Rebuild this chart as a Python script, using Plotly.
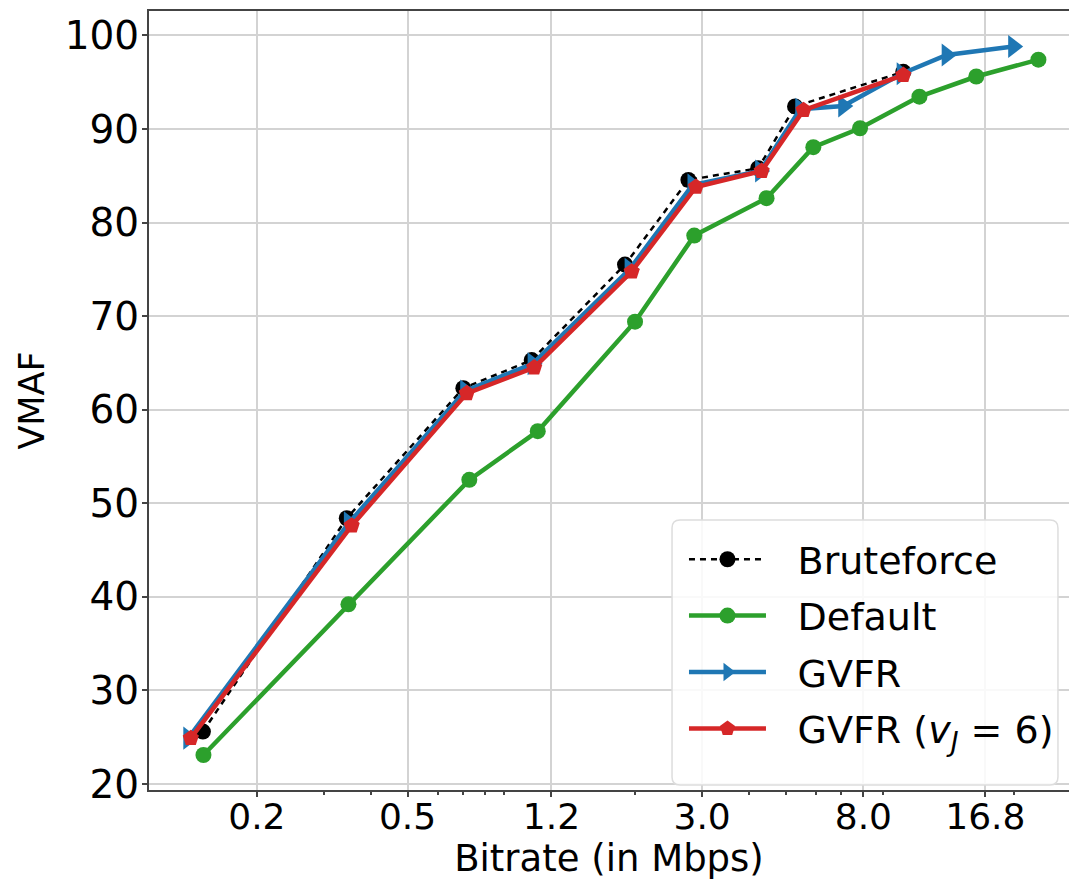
import plotly.graph_objects as go

# ---- data ----
bruteforce_x = [0.144, 0.3455, 0.702, 1.064, 1.877, 2.76, 4.22, 5.28, 10.2]
bruteforce_y = [25.6, 48.4, 62.3, 65.3, 75.5, 84.55, 85.8, 92.4, 96.1]

default_x = [0.1445, 0.349, 0.728, 1.104, 1.995, 2.86, 4.44, 5.9, 7.84, 11.25, 15.9, 23.2]
default_y = [23.1, 39.2, 52.5, 57.7, 69.4, 78.6, 82.6, 88.05, 90.07, 93.45, 95.6, 97.4]

gvfr_x = [0.1318, 0.35, 0.71, 1.07, 1.93, 2.83, 4.27, 5.45, 7.08, 10.1, 13.28, 19.9]
gvfr_y = [24.9, 47.9, 62.0, 64.9, 75.0, 84.0, 85.5, 92.1, 92.45, 95.9, 97.9, 98.8]

gvfr6_x = [0.1338, 0.356, 0.717, 1.08, 1.955, 2.89, 4.31, 5.56, 10.2]
gvfr6_y = [24.9, 47.6, 61.75, 64.5, 74.75, 83.8, 85.5, 92.0, 95.75]

x_tick_vals = [0.2, 0.5, 1.2, 3.0, 8.0, 16.8]
x_tick_text = ["0.2", "0.5", "1.2", "3.0", "8.0", "16.8"]
x_minor_vals = [0.3, 0.4, 0.6, 0.7, 0.8, 0.9, 2, 4, 5, 6, 7, 9, 20]
y_tick_vals = [20, 30, 40, 50, 60, 70, 80, 90, 100]

FONT = "DejaVu Sans"
GREEN = "#2ca02c"
BLUE = "#1f77b4"
RED = "#d62728"
PAD = "\u2002\u2009"  # gap between legend symbol and label

fig = go.Figure()

fig.add_trace(go.Scatter(
    x=bruteforce_x, y=bruteforce_y, mode="lines+markers", name=PAD + "Bruteforce",
    line=dict(color="black", width=2.5, dash="6px,5px"),
    marker=dict(symbol="circle", size=16, color="black"),
    legendgroup="a",
))
fig.add_trace(go.Scatter(
    x=default_x, y=default_y, mode="lines+markers", name=PAD + "Default",
    line=dict(color=GREEN, width=4.5),
    marker=dict(symbol="circle", size=16, color=GREEN),
    legendgroup="b",
))
fig.add_trace(go.Scatter(
    x=gvfr_x, y=gvfr_y, mode="lines+markers", name=PAD + "GVFR",
    line=dict(color=BLUE, width=4.5),
    marker=dict(symbol="triangle-right", size=20, color=BLUE),
    legendgroup="c",
))
fig.add_trace(go.Scatter(
    x=gvfr6_x, y=gvfr6_y, mode="lines+markers",
    name=PAD + "GVFR (<i>v</i><sub><i>J</i></sub> = 6)",
    line=dict(color=RED, width=4.5),
    marker=dict(symbol="pentagon", size=17, color=RED),
    legendgroup="d",
))

axis_common = dict(
    showline=True, linecolor="#444444", linewidth=2,
    showgrid=True, gridcolor="#d3d3d3", gridwidth=1.6,
    ticks="outside", ticklen=5, tickwidth=2, tickcolor="#444444",
    zeroline=False,
)

fig.update_xaxes(
    type="log",
    range=[-0.984, 1.4463],
    tickmode="array", tickvals=x_tick_vals, ticktext=x_tick_text,
    tickfont=dict(family=FONT, size=36, color="black"),
    ticklabelstandoff=-11,
    minor=dict(tickmode="array", tickvals=x_minor_vals, ticks="outside",
               ticklen=3, tickwidth=1.5, tickcolor="#444444", showgrid=False),
    mirror=True,
    title=dict(text="Bitrate (in Mbps)", font=dict(family=FONT, size=37, color="black"),
               standoff=5),
    **axis_common,
)
fig.update_yaxes(
    range=[19.36, 102.6],
    tickmode="array", tickvals=y_tick_vals,
    tickfont=dict(family=FONT, size=39, color="black"),
    ticklabelstandoff=-5,
    mirror=False,
    title=dict(text="VMAF", font=dict(family=FONT, size=35, color="black"),
               standoff=9),
    **axis_common,
)

# legend frame (rounded box like matplotlib's)
x0, x1, y0, y1 = 0.5685, 0.9880, 0.0064, 0.3466
rx, ry = 8 / 920, 8 / 779
path = (f"M {x0+rx},{y0} L {x1-rx},{y0} Q {x1},{y0} {x1},{y0+ry} "
        f"L {x1},{y1-ry} Q {x1},{y1} {x1-rx},{y1} L {x0+rx},{y1} "
        f"Q {x0},{y1} {x0},{y1-ry} L {x0},{y0+ry} Q {x0},{y0} {x0+rx},{y0} Z")
fig.add_shape(type="path", path=path, xref="paper", yref="paper",
              fillcolor="rgba(255,255,255,0.85)", line=dict(color="#dddddd", width=1.5),
              layer="above")

fig.update_layout(
    width=1069, height=883,
    margin=dict(l=149, r=0, t=11, b=93),
    paper_bgcolor="white", plot_bgcolor="white",
    font=dict(family=FONT, color="black"),
    legend=dict(
        x=0.5815, y=0.3363, xanchor="left", yanchor="top",
        bgcolor="rgba(0,0,0,0)", borderwidth=0,
        font=dict(family=FONT, size=38, color="black"),
        itemwidth=77, tracegroupgap=4,
    ),
    showlegend=True,
)

fig.write_html("out.html")
